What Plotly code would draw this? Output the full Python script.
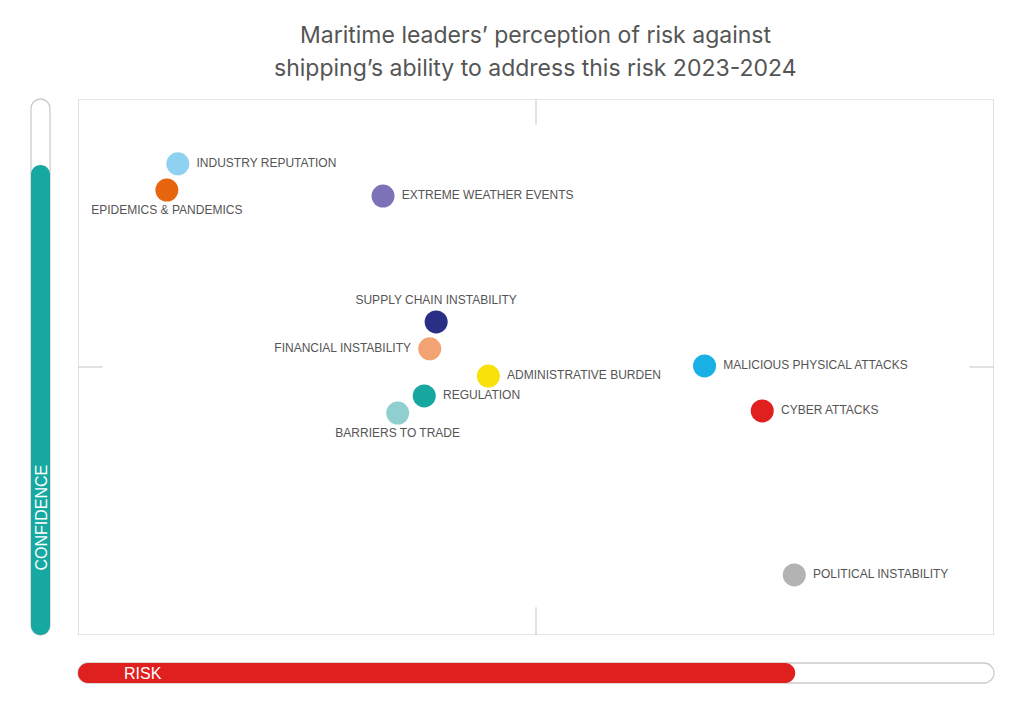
import plotly.graph_objects as go

# ---- data ----
risks = ["INDUSTRY REPUTATION", "EPIDEMICS & PANDEMICS", "EXTREME WEATHER EVENTS",
         "SUPPLY CHAIN INSTABILITY", "FINANCIAL INSTABILITY", "ADMINISTRATIVE BURDEN",
         "MALICIOUS PHYSICAL ATTACKS", "CYBER ATTACKS", "REGULATION",
         "BARRIERS TO TRADE", "POLITICAL INSTABILITY"]
risk_score = [10.9, 9.7, 33.3, 39.1, 38.4, 44.8, 68.4, 74.7, 37.8, 34.9, 78.2]
confidence = [87.9, 83.0, 81.9, 58.4, 53.4, 48.3, 50.2, 41.8, 44.6, 41.4, 11.2]
colors = ["#8fd1f0", "#e8650f", "#7b72b8", "#2a2f86", "#f3a272", "#f9e10a",
          "#19b0e6", "#e0201f", "#16a8a0", "#8fcfcf", "#b3b3b3"]
label_pos = ["middle right", "bottom center", "middle right", "top center",
             "middle left", "middle right", "middle right", "middle right",
             "middle right", "bottom center", "middle right"]
overall_risk = 78.3        # red bar fill (% of width)
overall_confidence = 87.7  # teal bar fill (% of height)

title_lines = ["Maritime leaders’ perception of risk against",
               "shipping’s ability to address this risk 2023-2024"]

# page body has an 8px margin, so figure coords = screen coords - 8
OFF = 8
W, H = 1008, 690
ML, MT = 78 - OFF, 99 - OFF
PW, PH = 994 - 78, 635 - 99
MR = W - ML - PW
MB = H - MT - PH


def px_x(sx):  # screen x -> paper x
    return (sx - OFF - ML) / PW


def px_y(sy):  # screen y -> paper y
    return (MT + PH - (sy - OFF)) / PH


FONT = "Liberation Sans, Arial, sans-serif"

# a little extra padding between marker and label, as in the original
NB = "\u00a0"
labels = []
for name, pos in zip(risks, label_pos):
    if pos.endswith("right"):
        labels.append(NB + name)
    elif pos.endswith("left"):
        labels.append(name + NB)
    else:
        labels.append(name)

fig = go.Figure()
fig.add_trace(go.Scatter(
    x=risk_score, y=confidence, mode="markers+text",
    text=labels, textposition=label_pos,
    marker=dict(size=23, color=colors, line=dict(width=0)),
    textfont=dict(family=FONT, size=12, color="#555555"),
    hovertext=risks, hoverinfo="text", showlegend=False, cliponaxis=False))

GRID = "#cfcfcf"
# plot frame
fig.add_shape(type="rect", xref="x", yref="y", x0=0, x1=100, y0=0, y1=100,
              line=dict(color=GRID, width=1.2), layer="below")
# quadrant tick marks at midpoints
fig.add_shape(type="line", x0=50, x1=50, y0=100, y1=95.2, line=dict(color=GRID, width=1.2))
fig.add_shape(type="line", x0=50, x1=50, y0=0, y1=5.2, line=dict(color=GRID, width=1.2))
fig.add_shape(type="line", x0=0, x1=2.7, y0=50, y1=50, line=dict(color=GRID, width=1.2))
fig.add_shape(type="line", x0=97.3, x1=100, y0=50, y1=50, line=dict(color=GRID, width=1.2))


def rrect(x0, x1, y0, y1, r_px):
    """rounded rectangle path in paper coords, radius given in pixels"""
    rx = r_px / PW
    ry = r_px / PH
    k = 0.5523
    xa, xb = min(x0, x1), max(x0, x1)
    ya, yb = min(y0, y1), max(y0, y1)
    return (f"M{xa+rx},{ya} L{xb-rx},{ya} "
            f"C{xb-rx+k*rx},{ya} {xb},{ya+ry-k*ry} {xb},{ya+ry} "
            f"L{xb},{yb-ry} "
            f"C{xb},{yb-ry+k*ry} {xb-rx+k*rx},{yb} {xb-rx},{yb} "
            f"L{xa+rx},{yb} "
            f"C{xa+rx-k*rx},{yb} {xa},{yb-ry+k*ry} {xa},{yb-ry} "
            f"L{xa},{ya+ry} "
            f"C{xa},{ya+ry-k*ry} {xa+rx-k*rx},{ya} {xa+rx},{ya} Z")


# confidence bar (left, vertical)
cx0, cx1 = px_x(31), px_x(50)
fig.add_shape(type="path", xref="paper", yref="paper", layer="below",
              path=rrect(cx0, cx1, 0, 1, 9.5),
              line=dict(color="#cccccc", width=1.3), fillcolor="white")
fig.add_shape(type="path", xref="paper", yref="paper", layer="below",
              path=rrect(cx0, cx1, 0, overall_confidence / 100, 9.5),
              line=dict(width=0), fillcolor="#17a9a1")
# risk bar (bottom, horizontal)
ry0, ry1 = px_y(663), px_y(683)
fig.add_shape(type="path", xref="paper", yref="paper", layer="below",
              path=rrect(0, 1, ry1, ry0, 10),
              line=dict(color="#cccccc", width=1.3), fillcolor="white")
fig.add_shape(type="path", xref="paper", yref="paper", layer="below",
              path=rrect(0, overall_risk / 100, ry1, ry0, 10),
              line=dict(width=0), fillcolor="#e0201f")

fig.add_annotation(text="RISK", xref="paper", yref="paper",
                   x=px_x(143), y=(ry0 + ry1) / 2, xanchor="center", yanchor="middle",
                   showarrow=False, font=dict(family=FONT, size=16, color="white"))
fig.add_annotation(text="CONFIDENCE", xref="paper", yref="paper",
                   x=(cx0 + cx1) / 2, y=px_y(518), xanchor="center", yanchor="middle",
                   textangle=-90, showarrow=False,
                   font=dict(family=FONT, size=16, color="white"))

for line, sy in zip(title_lines, [35, 68]):
    fig.add_annotation(text=line, xref="paper", yref="paper",
                       x=px_x(535), y=px_y(sy), xanchor="center", yanchor="middle",
                       showarrow=False,
                       font=dict(family="Inter, Open Sans, sans-serif", size=23, color="#555555"))

fig.update_layout(
    width=W, height=H,
    margin=dict(l=ML, r=MR, t=MT, b=MB),
    paper_bgcolor="white", plot_bgcolor="white",
    xaxis=dict(range=[0, 100], visible=False, fixedrange=True),
    yaxis=dict(range=[0, 100], visible=False, fixedrange=True),
)

fig.write_html("out.html")
